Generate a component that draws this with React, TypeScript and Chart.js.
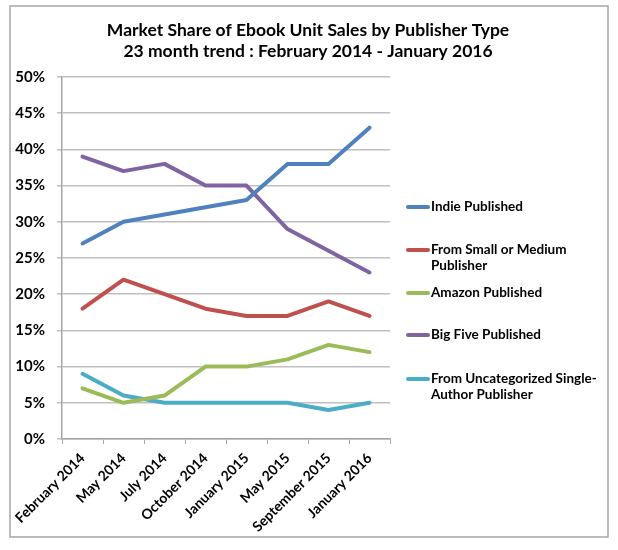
import React, { useEffect, useRef } from "react";
import { Chart, registerables } from "chart.js";

Chart.register(...registerables);

const categories = [
  "February 2014",
  "May 2014",
  "July 2014",
  "October 2014",
  "January 2015",
  "May 2015",
  "September 2015",
  "January 2016",
];

const seriesNames = [
  "Indie Published",
  "From Small or Medium Publisher",
  "Amazon Published",
  "Big Five Published",
  "From Uncategorized Single-Author Publisher",
];

const legendLines = [
  ["Indie Published"],
  ["From Small or Medium", "Publisher"],
  ["Amazon Published"],
  ["Big Five Published"],
  ["From Uncategorized Single-", "Author Publisher"],
];

const indie = [27, 30, 31, 32, 33, 38, 38, 43];
const smallMedium = [18, 22, 20, 18, 17, 17, 19, 17];
const amazon = [7, 5, 6, 10, 10, 11, 13, 12];
const bigFive = [39, 37, 38, 35, 35, 29, 26, 23];
const uncategorized = [9, 6, 5, 5, 5, 5, 4, 5];

const seriesValues = [indie, smallMedium, amazon, bigFive, uncategorized];
const seriesColors = ["#4f81bd", "#c0504d", "#9bbb59", "#8064a2", "#4bacc6"];

const titleLines = [
  "Market Share of Ebook Unit Sales by Publisher Type",
  "23 month trend : February 2014 - January 2016",
];

const yTicks = { min: 0, max: 50, step: 5 };

const FONT = "Lato, 'Open Sans', sans-serif";

const framePlugin = {
  id: "frame",
  beforeDraw(chart: any) {
    const ctx = chart.ctx;
    ctx.save();
    ctx.fillStyle = "#ffffff";
    ctx.fillRect(0, 0, chart.width, chart.height);
    ctx.strokeStyle = "#a6a6a6";
    ctx.lineWidth = 1.5;
    ctx.strokeRect(10, 6, 598, 531);
    ctx.fillStyle = "#000000";
    ctx.textAlign = "center";
    ctx.textBaseline = "alphabetic";
    ctx.font = `bold 17.5px ${FONT}`;
    ctx.fillText(titleLines[0], 308, 36);
    ctx.fillText(titleLines[1], 308, 57);
    ctx.restore();
  },
  afterDraw(chart: any) {
    const ctx = chart.ctx;
    const rows = [207, 250, 293, 335, 379];
    ctx.save();
    ctx.font = `bold 13.5px ${FONT}`;
    ctx.textAlign = "left";
    ctx.textBaseline = "middle";
    chart.data.datasets.forEach((ds: any, i: number) => {
      const y = rows[i];
      ctx.strokeStyle = ds.borderColor;
      ctx.lineWidth = 4;
      ctx.lineCap = "round";
      ctx.beginPath();
      ctx.moveTo(408, y);
      ctx.lineTo(428, y);
      ctx.stroke();
      ctx.fillStyle = "#000000";
      legendLines[i].forEach((t, j) => ctx.fillText(t, 431, y + j * 16));
    });
    ctx.restore();
  },
};

export default function App() {
  const ref = useRef<HTMLCanvasElement>(null);
  useEffect(() => {
    document.body.style.margin = "0";
    const chart = new Chart(ref.current!, {
      type: "line",
      data: {
        labels: categories,
        datasets: seriesNames.map((name, i) => ({
          label: name,
          data: seriesValues[i],
          borderColor: seriesColors[i],
          backgroundColor: seriesColors[i],
          borderWidth: 4,
          pointRadius: 0,
          tension: 0,
          borderCapStyle: "round",
          borderJoinStyle: "round",
        })),
      },
      options: {
        animation: false,
        responsive: false,
        devicePixelRatio: 1,
        layout: { padding: { top: 77, left: 0, right: 228, bottom: 0 } },
        plugins: {
          legend: { display: false },
          title: { display: false },
          tooltip: { enabled: false },
        },
        scales: {
          x: {
            type: "category",
            offset: true,
            afterFit: (s: any) => {
              s.height = 111;
            },
            grid: {
              offset: true,
              drawOnChartArea: false,
              drawTicks: true,
              tickLength: 5,
              color: "#a6a6a6",
            },
            border: { display: true, color: "#a6a6a6", width: 1.5 },
            ticks: {
              autoSkip: false,
              minRotation: 45,
              maxRotation: 45,
              padding: 6,
              color: "#000000",
              font: { family: FONT, weight: "bold", size: 14 },
            },
          },
          y: {
            min: yTicks.min,
            max: yTicks.max,
            afterFit: (s: any) => {
              s.width = 62;
            },
            grid: {
              color: "#bfbfbf",
              lineWidth: 1.5,
              tickLength: 5,
            },
            border: { display: true, color: "#a6a6a6", width: 1.5 },
            ticks: {
              stepSize: yTicks.step,
              padding: 12,
              color: "#000000",
              font: { family: FONT, weight: "bold", size: 15 },
              callback: (v: any) => `${v}%`,
            },
          },
        },
      },
      plugins: [framePlugin],
    } as any);
    return () => chart.destroy();
  }, []);
  return (
    <div style={{ width: 618, height: 550 }}>
      <canvas ref={ref} width={618} height={550} style={{ display: "block" }} />
    </div>
  );
}
